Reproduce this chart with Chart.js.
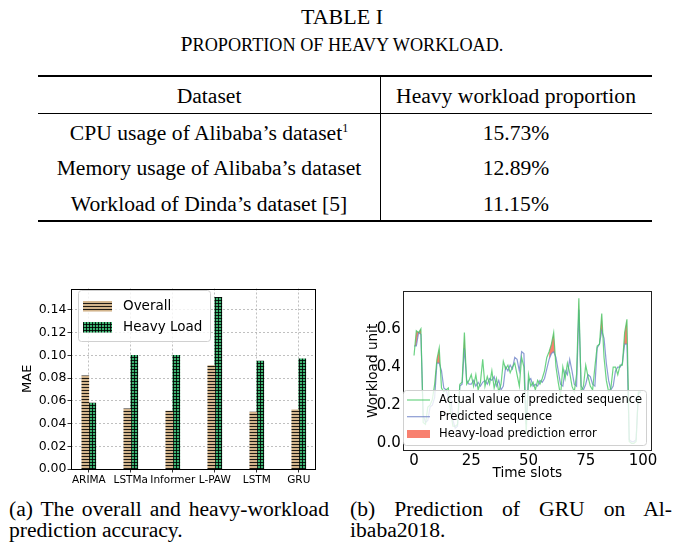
<!DOCTYPE html>
<html lang="en">
<head>
<meta charset="UTF-8">
<title>Proportion of heavy workload</title>
<script src="https://cdn.jsdelivr.net/npm/chart.js"></script>
<style>
  body { margin: 0; background: #fff; }
  #page { position: relative; width: 684px; height: 544px; overflow: hidden; font-family: "Liberation Serif", "Times New Roman", serif; color: #000; }
  .t { position: absolute; white-space: nowrap; line-height: 24px; font-size: 21.6px; text-align: center; }
  .rule { position: absolute; background: #000; }
  canvas { position: absolute; }
  .cap { position: absolute; font-size: 21.6px; line-height: 21px; white-space: nowrap; }
  .just { text-align: justify; text-align-last: justify; }
</style>
</head>
<body>
<div id="page">
  <div class="t" style="left:0;width:684px;top:5px;font-size:22px;">TABLE I</div>
  <div class="t" style="left:0;width:684px;top:32px;">P<span style="font-size:18.2px">ROPORTION OF HEAVY WORKLOAD.</span></div>

  <div class="rule" style="left:38px;top:75px;width:614px;height:1.6px;"></div>
  <div class="rule" style="left:38px;top:112.5px;width:614px;height:1px;"></div>
  <div class="rule" style="left:38px;top:220px;width:614px;height:1.6px;"></div>
  <div class="rule" style="left:379.5px;top:76px;width:1px;height:145px;"></div>

  <div class="t" style="left:38px;width:342px;top:84px;">Dataset</div>
  <div class="t" style="left:380px;width:272px;top:84px;">Heavy workload proportion</div>
  <div class="t" style="left:38px;width:342px;top:121px;">CPU usage of Alibaba’s dataset<sup style="font-size:12px;vertical-align:8px;line-height:0">1</sup></div>
  <div class="t" style="left:380px;width:272px;top:121px;">15.73%</div>
  <div class="t" style="left:38px;width:342px;top:156px;">Memory usage of Alibaba’s dataset</div>
  <div class="t" style="left:380px;width:272px;top:156px;">12.89%</div>
  <div class="t" style="left:38px;width:342px;top:192px;">Workload of Dinda’s dataset [5]</div>
  <div class="t" style="left:380px;width:272px;top:192px;">11.15%</div>

  <canvas id="mae" width="340" height="210" style="left:0;top:280px;"></canvas>
  <canvas id="load" width="344" height="210" style="left:340px;top:280px;"></canvas>

  <div class="cap just" style="left:9px;width:320px;top:499px;">(a) The overall and heavy-workload</div>
  <div class="cap" style="left:9px;top:520px;">prediction accuracy.</div>
  <div class="cap just" style="left:350px;width:322px;top:499px;">(b) Prediction of GRU on Al-</div>
  <div class="cap" style="left:350px;top:520px;">ibaba2018.</div>
</div>

<script>
// (a) MAE per model
const models = ['ARIMA', 'LSTMa', 'Informer', 'L-PAW', 'LSTM', 'GRU'];
const overallMae = [0.082, 0.053, 0.051, 0.091, 0.050, 0.052];
const heavyMae = [0.058, 0.100, 0.100, 0.151, 0.095, 0.097];
const maeTicks = [0, 0.02, 0.04, 0.06, 0.08, 0.10, 0.12, 0.14];

// (b) GRU prediction on Alibaba2018, time slots 0..99
const actualLoad = [
  0.46, 0.59, 0.58, 0.60, 0.11, 0.10, 0.19, 0.20, 0.23, 0.31,
  0.44, 0.50, 0.29, 0.27, 0.28, 0.29, 0.16, 0.09, 0.09, 0.10,
  0.31, 0.32, 0.58, 0.31, 0.33, 0.36, 0.30, 0.36, 0.28, 0.32,
  0.44, 0.30, 0.35, 0.31, 0.38, 0.29, 0.34, 0.27, 0.31, 0.43,
  0.39, 0.41, 0.37, 0.40, 0.42, 0.36, 0.30, 0.45, 0.40, 0.05,
  0.36, 0.30, 0.32, 0.28, 0.33, 0.31, 0.34, 0.38, 0.45, 0.48,
  0.52, 0.58, 0.40, 0.32, 0.25, 0.40, 0.34, 0.42, 0.37, 0.30,
  0.27, 0.36, 0.76, 0.27, 0.30, 0.41, 0.35, 0.30, 0.28, 0.40,
  0.51, 0.52, 0.68, 0.45, 0.33, 0.27, 0.29, 0.40, 0.40, 0.36,
  0.41, 0.41, 0.58, 0.65, 0.01, 0.00, 0.00, 0.01, 0.27, 0.27
];
const predictedLoad = [
  0.51, 0.51, 0.58, 0.57, 0.15, 0.11, 0.12, 0.19, 0.20, 0.24,
  0.42, 0.42, 0.38, 0.29, 0.28, 0.24, 0.25, 0.12, 0.08, 0.09,
  0.30, 0.31, 0.50, 0.33, 0.31, 0.31, 0.33, 0.30, 0.32, 0.30,
  0.32, 0.33, 0.31, 0.34, 0.33, 0.35, 0.30, 0.33, 0.28, 0.30,
  0.40, 0.38, 0.41, 0.39, 0.45, 0.44, 0.38, 0.48, 0.47, 0.10,
  0.33, 0.34, 0.30, 0.31, 0.30, 0.33, 0.32, 0.34, 0.39, 0.44,
  0.47, 0.48, 0.45, 0.38, 0.31, 0.30, 0.38, 0.36, 0.44, 0.38,
  0.31, 0.30, 0.70, 0.30, 0.28, 0.31, 0.36, 0.35, 0.31, 0.30,
  0.50, 0.52, 0.59, 0.55, 0.42, 0.33, 0.28, 0.30, 0.38, 0.40,
  0.40, 0.42, 0.52, 0.52, 0.02, 0.01, 0.01, 0.02, 0.26, 0.27
];
const heavySlots = [0, 1, 2, 3, 4, 9, 10, 11, 12, 21, 22, 23, 59, 60, 61, 62,
  71, 72, 73, 81, 82, 83, 91, 92, 93, 94];
const slotTicks = [0, 25, 50, 75, 100];
const loadTicks = [0, 0.2, 0.4, 0.6];

Chart.defaults.font.family = '"DejaVu Sans", sans-serif';
Chart.defaults.color = '#000';

// hatch fills like matplotlib '-' and '+'
function hatch(bg, plus) {
  const c = document.createElement('canvas');
  c.width = 3; c.height = 3;
  const g = c.getContext('2d');
  g.fillStyle = bg;
  g.fillRect(0, 0, 3, 3);
  g.fillStyle = 'rgba(0,0,0,0.85)';
  g.fillRect(0, 2, 3, 1);
  if (plus) g.fillRect(2, 0, 1, 3);
  return g.createPattern(c, 'repeat');
}
const overallFill = hatch('#d2b48c', false);
const heavyFill = hatch('#3cb371', true);

const lineGreen = 'rgba(70, 200, 100, 0.8)';
const lineBlue = 'rgba(110, 130, 200, 0.8)';
const errRed = '#f8806f';

const framePlugin = {
  id: 'frame',
  afterDatasetsDraw(chart, args, opts) {
    const { ctx, chartArea: a } = chart;
    ctx.save();
    ctx.strokeStyle = opts.color || '#000';
    ctx.lineWidth = 1;
    ctx.strokeRect(Math.round(a.left) + 0.5, Math.round(a.top) + 0.5,
      Math.round(a.right - a.left) - 1, Math.round(a.bottom - a.top) - 1);
    ctx.restore();
  }
};

const boxLegend = {
  id: 'boxLegend',
  afterDraw(chart, args, o) {
    const ctx = chart.ctx;
    const { x, y, w, h } = o.box;
    ctx.save();
    ctx.beginPath();
    ctx.roundRect(x + 0.5, y + 0.5, w, h, 3);
    ctx.fillStyle = 'rgba(255,255,255,0.8)';
    ctx.fill();
    ctx.strokeStyle = '#d0d0d0';
    ctx.lineWidth = 1;
    ctx.stroke();
    ctx.font = o.fontSize + 'px "DejaVu Sans"';
    ctx.textBaseline = 'middle';
    o.items.forEach(it => {
      if (it.kind === 'line') {
        ctx.strokeStyle = it.style;
        ctx.lineWidth = 1.2;
        ctx.beginPath();
        ctx.moveTo(o.swatchX, it.y);
        ctx.lineTo(o.swatchX + o.swatchW, it.y);
        ctx.stroke();
      } else {
        ctx.fillStyle = it.style;
        ctx.fillRect(o.swatchX, it.y - o.swatchH / 2, o.swatchW, o.swatchH);
      }
      ctx.fillStyle = '#000';
      ctx.fillText(it.label, o.textX, it.y + 0.5);
    });
    ctx.restore();
  }
};

new Chart(document.getElementById('mae'), {
  type: 'bar',
  data: {
    datasets: [
      { label: 'Overall', data: overallMae.map((v, i) => ({ x: i, y: v })),
        backgroundColor: overallFill, barThickness: 7, borderWidth: 0 },
      { label: 'Heavy Load', data: heavyMae.map((v, i) => ({ x: i, y: v })),
        backgroundColor: heavyFill, barThickness: 7, borderWidth: 0 }
    ]
  },
  options: {
    responsive: false,
    animation: false,
    layout: { padding: { left: 0, top: 7, right: 24, bottom: 0 } },
    plugins: {
      legend: { display: false },
      tooltip: { enabled: false },
      frame: { color: '#000' },
      boxLegend: {
        box: { x: 78, y: 10, w: 132, h: 51 },
        fontSize: 13.5,
        swatchX: 83, swatchW: 29, swatchH: 10.5, textX: 123,
        items: [
          { label: 'Overall', kind: 'fill', style: overallFill, y: 26.3 },
          { label: 'Heavy Load', kind: 'fill', style: heavyFill, y: 47.3 }
        ]
      }
    },
    scales: {
      x: {
        type: 'linear', min: -0.424, max: 5.41, offset: false,
        afterBuildTicks: s => { s.ticks = models.map((m, i) => ({ value: i })); },
        afterFit: s => { s.height = 21; },
        ticks: { callback: v => models[v], font: { size: 10.5 }, padding: 1, maxRotation: 0, autoSkip: false },
        grid: { offset: false, color: '#b0b0b0', lineWidth: 0.8, tickLength: 3.5, tickColor: '#000' },
        border: { display: false, dash: [2, 2] }
      },
      y: {
        min: 0, max: 0.1588,
        afterBuildTicks: s => { s.ticks = maeTicks.map(v => ({ value: v })); },
        afterFit: s => { s.width = 71; },
        ticks: { callback: v => v.toFixed(2), font: { size: 12.5 }, padding: 1 },
        grid: { color: '#b0b0b0', lineWidth: 0.8, tickLength: 3.5, tickColor: '#000' },
        border: { display: false, dash: [2, 2] },
        title: { display: true, text: 'MAE', font: { size: 13 }, padding: { top: 20, bottom: 0 } }
      }
    }
  },
  plugins: [framePlugin, boxLegend]
});

new Chart(document.getElementById('load'), {
  type: 'line',
  data: {
    datasets: [
      { label: 'Actual value of predicted sequence', data: actualLoad.map((v, i) => ({ x: i, y: v })),
        borderColor: lineGreen, borderWidth: 1.2, pointRadius: 0, fill: false },
      { label: 'Predicted sequence', data: predictedLoad.map((v, i) => ({ x: i, y: v })),
        borderColor: lineBlue, borderWidth: 1.2, pointRadius: 0, fill: false },
      { label: 'Heavy-load prediction error',
        data: actualLoad.map((v, i) => ({ x: i, y: heavySlots.includes(i) ? v : null })),
        borderWidth: 0, pointRadius: 0, spanGaps: false,
        fill: { target: 1, above: errRed, below: 'rgba(0,0,0,0)' } }
    ]
  },
  options: {
    responsive: false,
    animation: false,
    layout: { padding: { left: 0, top: 7, right: 32, bottom: 0 } },
    plugins: {
      legend: { display: false },
      tooltip: { enabled: false },
      frame: { color: '#222' },
      boxLegend: {
        box: { x: 63, y: 110, w: 243, h: 55 },
        fontSize: 11.5,
        swatchX: 67, swatchW: 23, swatchH: 8, textX: 99,
        items: [
          { label: 'Actual value of predicted sequence', kind: 'line', style: lineGreen, y: 120 },
          { label: 'Predicted sequence', kind: 'line', style: lineBlue, y: 136.7 },
          { label: 'Heavy-load prediction error', kind: 'fill', style: errRed, y: 154 }
        ]
      }
    },
    scales: {
      x: {
        type: 'linear', min: -4.95, max: 103.95,
        afterBuildTicks: s => { s.ticks = slotTicks.map(v => ({ value: v })); },
        afterFit: s => { s.height = 39.3; },
        ticks: { callback: v => String(v), font: { size: 15 }, padding: 1, maxRotation: 0 },
        grid: { display: false, drawTicks: false },
        border: { display: false },
        title: { display: true, text: 'Time slots', font: { size: 13.7 }, padding: { top: 0, bottom: 8.5 } }
      },
      y: {
        min: -0.038, max: 0.798,
        afterBuildTicks: s => { s.ticks = loadTicks.map(v => ({ value: v })); },
        afterFit: s => { s.width = 62.7; },
        ticks: { callback: v => v.toFixed(1), font: { size: 15 }, padding: 2 },
        grid: { display: false, drawTicks: false },
        border: { display: false },
        title: { display: true, text: 'Workload unit', font: { size: 13.6 }, padding: { top: 25, bottom: 0 } }
      }
    }
  },
  plugins: [framePlugin, boxLegend]
});
</script>
</body>
</html>
